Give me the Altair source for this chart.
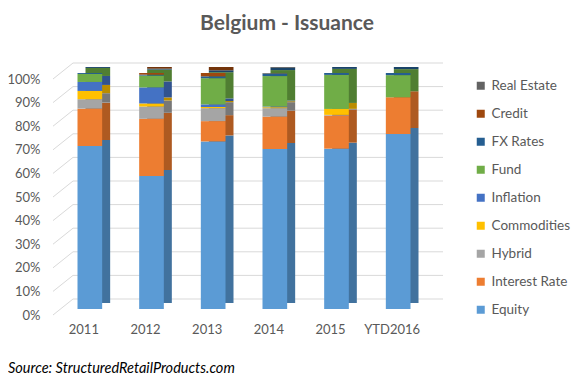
import altair as alt
import pandas as pd

years = ["2011", "2012", "2013", "2014", "2015", "YTD2016"]
series = ["Equity", "Interest Rate", "Hybrid", "Commodities", "Inflation",
          "Fund", "FX Rates", "Credit", "Real Estate"]

equity = [69.1, 56.4, 71.0, 67.8, 67.8, 74.2]
interest_rate = [15.8, 24.2, 8.6, 13.7, 14.0, 15.5]
hybrid = [4.0, 5.2, 5.5, 3.6, 0.3, 0.0]
commodities = [3.5, 1.3, 0.5, 0.4, 2.5, 0.0]
inflation = [3.8, 6.8, 1.1, 0.3, 0.0, 0.0]
fund = [3.4, 5.0, 11.1, 12.9, 14.4, 9.4]
fx_rates = [0.4, 0.4, 0.8, 1.0, 0.8, 0.9]
credit = [0.0, 0.7, 1.4, 0.0, 0.0, 0.0]
real_estate = [0.0, 0.0, 0.0, 0.3, 0.0, 0.0]

front_colors = ["#5B9BD5", "#ED7D31", "#A5A5A5", "#FFC000", "#4472C4",
                "#70AD47", "#255E91", "#9E480E", "#636363"]
side_colors = ["#41729E", "#AE5A21", "#787878", "#BA8C00", "#31538F",
               "#507E32", "#1A4469", "#73340A", "#484848"]

tick_values = [0.0, 0.1, 0.2, 0.3, 0.4, 0.5, 0.6, 0.7, 0.8, 0.9, 1.0]

values = [equity, interest_rate, hybrid, commodities, inflation,
          fund, fx_rates, credit, real_estate]
rows = []
for si, (name, vals) in enumerate(zip(series, values)):
    for yi, yr in enumerate(years):
        rows.append({"Year": yr, "Type": name, "Share": vals[yi], "idx": si})
df = pd.DataFrame(rows)
ticks = pd.DataFrame({"tick": tick_values})

FONT = "Lato"
GREY = "#595959"

x_enc = alt.X("Year:N", sort=years,
              scale=alt.Scale(paddingInner=0.6, paddingOuter=0.3),
              axis=alt.Axis(title=None, labelAngle=0, domain=False, ticks=False,
                            tickSize=0, labelPadding=14, labelOffset=-6,
                            labelFont=FONT, labelFontSize=13, labelColor=GREY))
y_scale = alt.Scale(domain=[0, 1])
y_axis = alt.Axis(title=None, values=tick_values, format=".0%", grid=False,
                  domain=False, ticks=False, tickSize=0, labelPadding=19,
                  labelOffset=6, labelFont=FONT, labelFontSize=13,
                  labelColor=GREY)

grid_h = alt.Chart(ticks).mark_rule(color="#D9D9D9", strokeWidth=1, yOffset=-10).encode(
    x=alt.value(14), x2=alt.value(384),
    y=alt.Y("tick:Q", scale=y_scale, axis=y_axis),
)
grid_s = alt.Chart(ticks).mark_rule(color="#D9D9D9", strokeWidth=1,
                                     yOffset=6, y2Offset=-10).encode(
    x=alt.value(-6), x2=alt.value(14),
    y=alt.Y("tick:Q", scale=y_scale, axis=y_axis),
    y2=alt.Y2("tick:Q"),
)

rev_series = series[::-1]
rev_front = front_colors[::-1]
rev_side = side_colors[::-1]

back = alt.Chart(df).mark_bar(xOffset=8, x2Offset=8, yOffset=-6, y2Offset=-6).encode(
    x=x_enc,
    y=alt.Y("Share:Q", stack="normalize", scale=y_scale, axis=y_axis),
    color=alt.Color("Type:N", scale=alt.Scale(domain=rev_series, range=rev_side), legend=None),
    order=alt.Order("idx:Q", sort="ascending"),
)

front = alt.Chart(df).mark_bar().encode(
    x=x_enc,
    y=alt.Y("Share:Q", stack="normalize", scale=y_scale, axis=y_axis),
    color=alt.Color("Type:N", scale=alt.Scale(domain=rev_series, range=rev_front),
                    legend=alt.Legend(title=None, orient="none", legendX=415, legendY=-1,
                                      symbolType="square", symbolSize=64,
                                      symbolStrokeWidth=0, labelFont=FONT,
                                      labelFontSize=13.5, labelColor=GREY,
                                      labelOffset=4, clipHeight=27.4, rowPadding=0)),
    order=alt.Order("idx:Q", sort="ascending"),
)

title = alt.Chart(pd.DataFrame({"t": ["Belgium - Issuance"]})).mark_text(
    font=FONT, fontSize=21, fontWeight="bold", color=GREY, align="center",
    baseline="alphabetic").encode(text="t:N", x=alt.value(228), y=alt.value(-43))

source = alt.Chart(pd.DataFrame({"t": ["Source: StructuredRetailProducts.com"]})).mark_text(
    font=FONT, fontSize=14.5, fontStyle="italic", color="#000000", align="left",
    baseline="alphabetic").encode(text="t:N", x=alt.value(-51), y=alt.value(300))

chart = alt.layer(grid_h, grid_s, back, front, title, source).resolve_scale(
    color="independent"
).properties(
    width=370, height=236,
    autosize=alt.AutoSizeParams(type="none"),
    padding={"left": 51, "top": 65, "right": 142, "bottom": 70},
).configure_view(stroke=None)

chart.save("out.html", embed_options={"renderer": "svg", "actions": False})
